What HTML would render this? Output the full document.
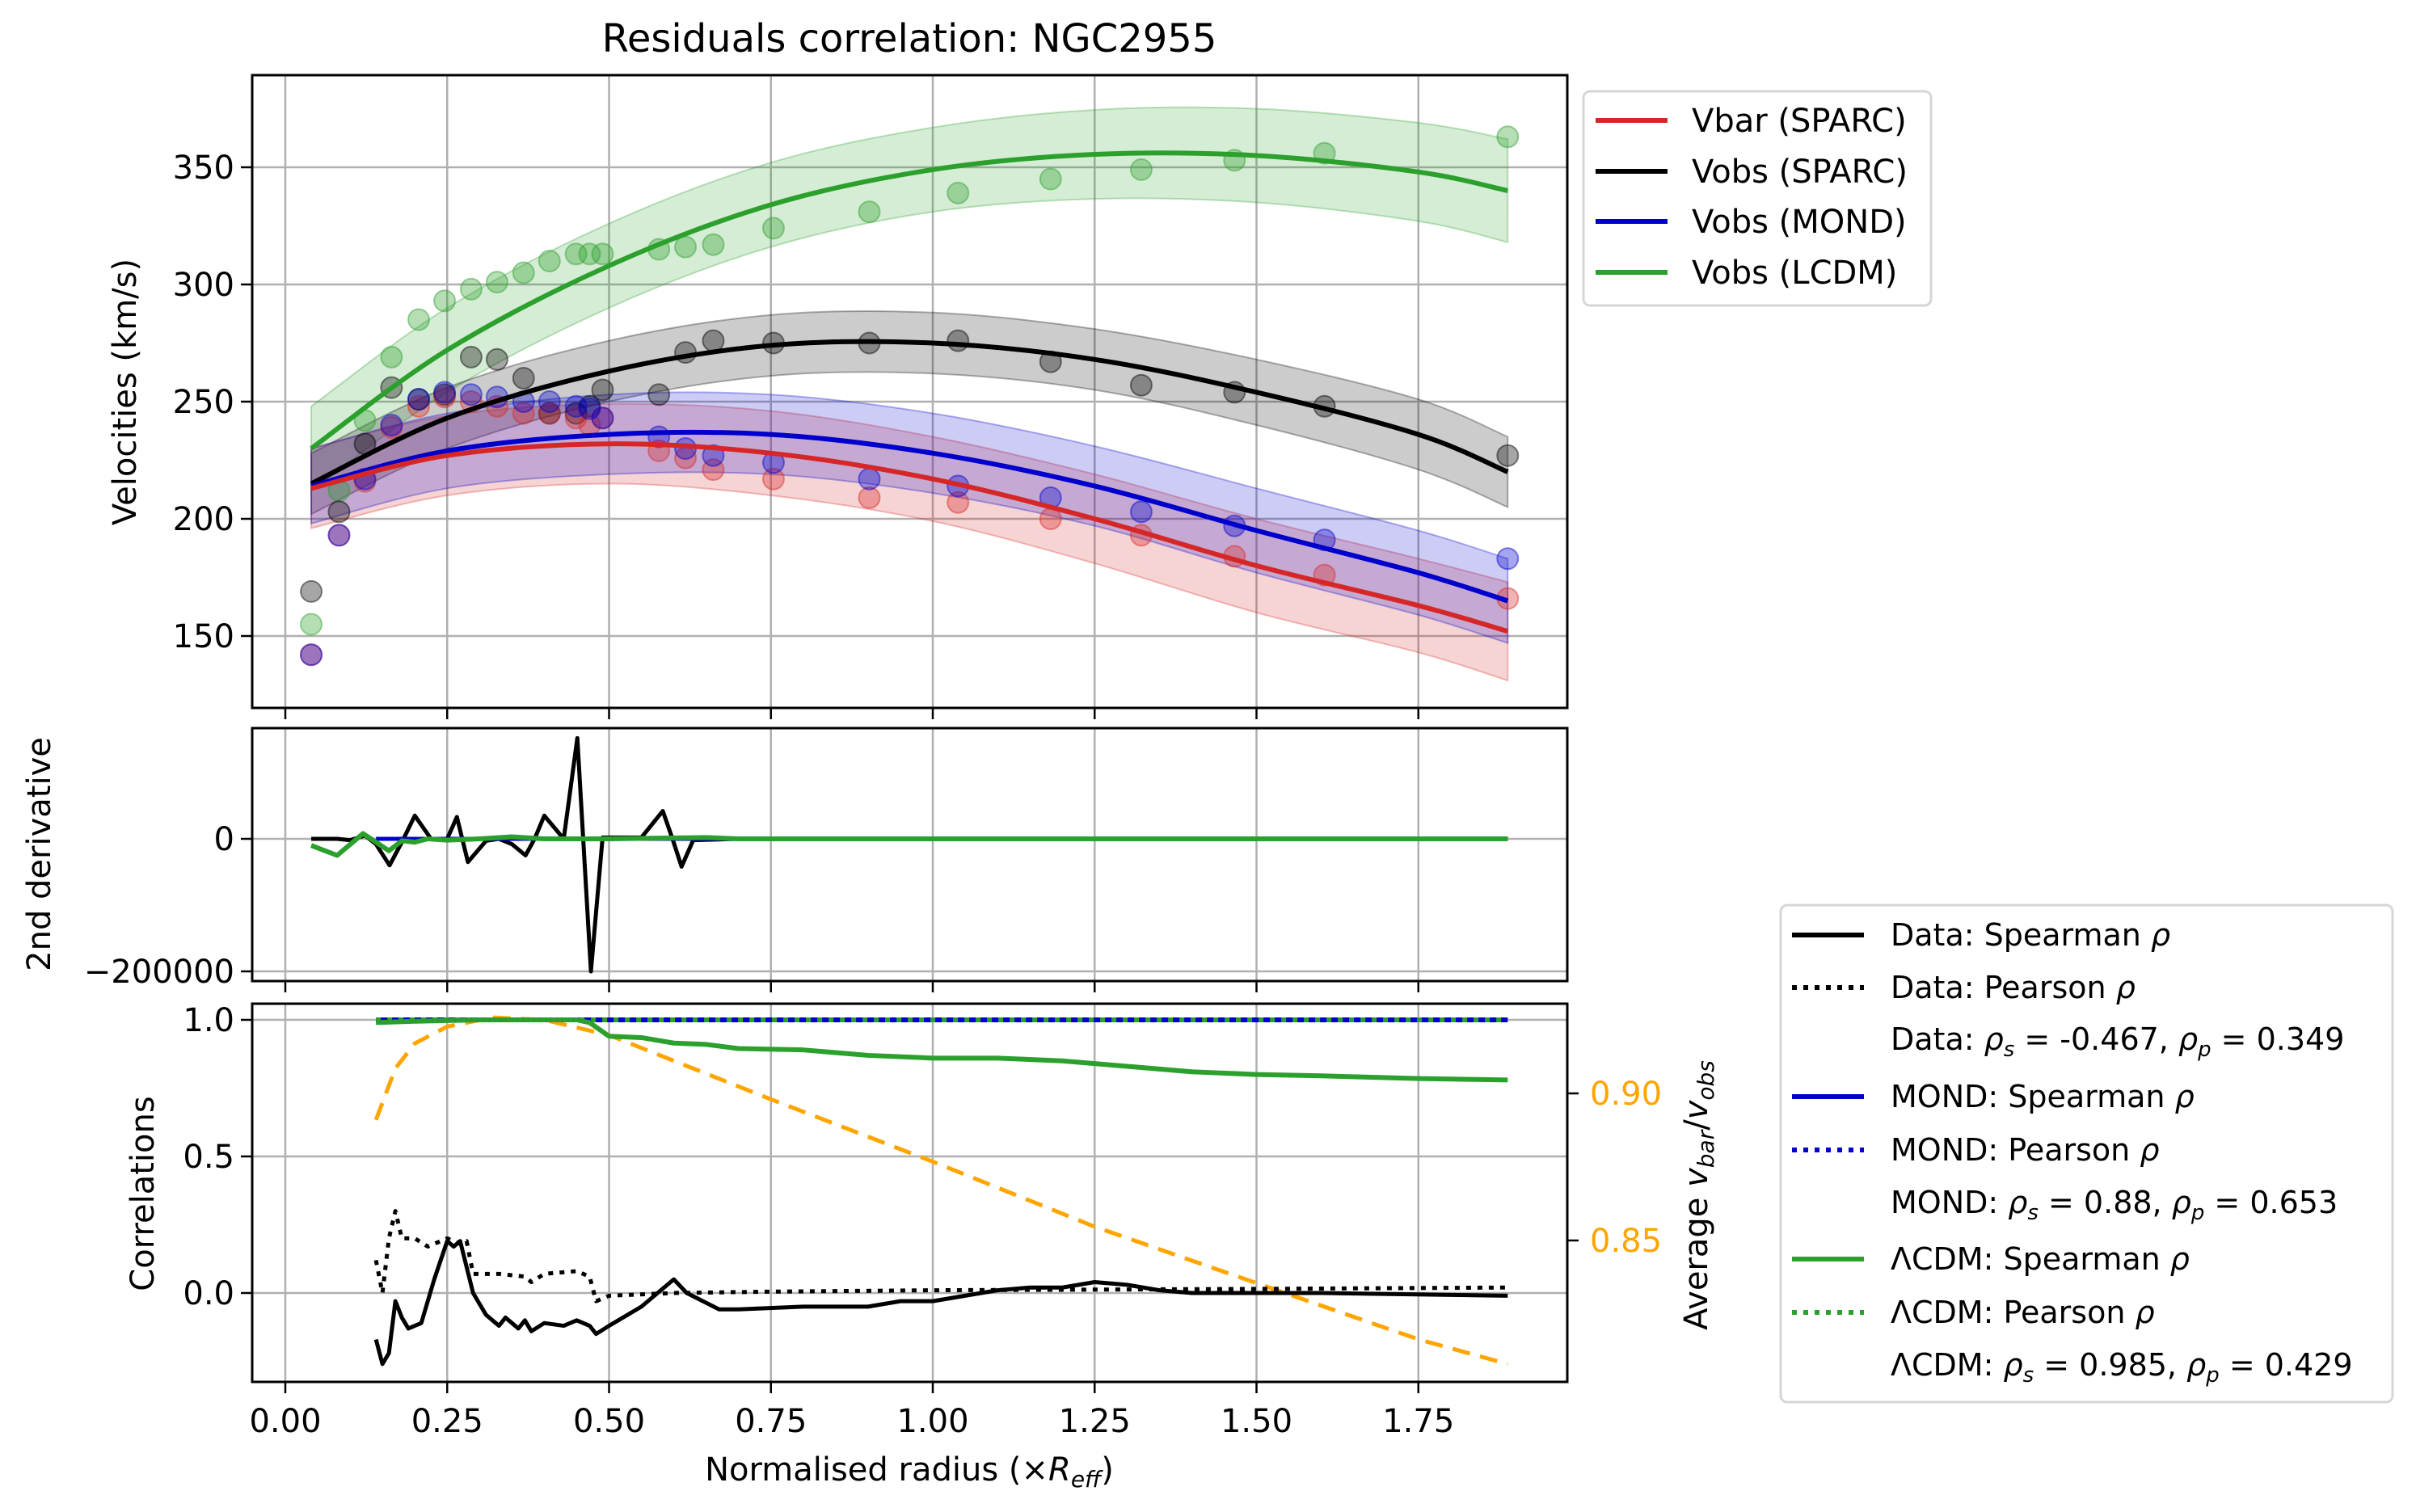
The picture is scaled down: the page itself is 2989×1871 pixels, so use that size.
<!DOCTYPE html>
<html><head><meta charset="utf-8"><style>
html,body{margin:0;padding:0;background:#fff;}
svg{display:block;font-family:"DejaVu Sans","Liberation Sans",sans-serif;}
</style></head><body>
<svg id="fig" width="2989" height="1871" viewBox="0 0 2989 1871" xmlns="http://www.w3.org/2000/svg">
<rect width="2989" height="1871" fill="#fff"/>
<g id="g1"></g>
<g id="g2"></g>
<g id="g3"></g>
<text x="1125" y="64" font-size="48" text-anchor="middle">Residuals correlation: NGC2955</text>
<text transform="translate(168,485) rotate(-90)" font-size="40" text-anchor="middle">Velocities (km/s)</text>
<text transform="translate(62,1057) rotate(-90)" font-size="40" text-anchor="middle">2nd derivative</text>
<text transform="translate(190,1477) rotate(-90)" font-size="40" text-anchor="middle">Correlations</text>
<text transform="translate(2112,1479) rotate(-90)" font-size="40" text-anchor="middle">Average <tspan font-style="italic">v</tspan><tspan font-style="italic" font-size="28" dy="8">bar</tspan><tspan dy="-8">/</tspan><tspan font-style="italic">v</tspan><tspan font-style="italic" font-size="28" dy="8">obs</tspan></text>
<text x="1125" y="1832" font-size="40" text-anchor="middle">Normalised radius (×<tspan font-style="italic">R</tspan><tspan font-style="italic" font-size="28" dy="8">eff</tspan><tspan dy="-8">)</tspan></text>

<g>
<rect x="1959" y="113" width="430" height="265" rx="8" fill="#fff" stroke="#d6d6d6" stroke-width="3"/>
<g><line x1="1974" y1="149" x2="2063" y2="149" stroke="#d62728" stroke-width="6"/><text x="2093" y="163" font-size="40">Vbar (SPARC)</text></g>
<g><line x1="1974" y1="212" x2="2063" y2="212" stroke="#000" stroke-width="6"/><text x="2093" y="226" font-size="40">Vobs (SPARC)</text></g>
<g><line x1="1974" y1="274" x2="2063" y2="274" stroke="#0000cd" stroke-width="6"/><text x="2093" y="288" font-size="40">Vobs (MOND)</text></g>
<g><line x1="1974" y1="337" x2="2063" y2="337" stroke="#2ca02c" stroke-width="6"/><text x="2093" y="351" font-size="40">Vobs (LCDM)</text></g>
</g>

<g font-size="38">
<rect x="2203" y="1120" width="757" height="615" rx="8" fill="#fff" stroke="#d6d6d6" stroke-width="3"/>
<g><line x1="2217" y1="1157" x2="2306" y2="1157" stroke="#000" stroke-width="6"/><text x="2339" y="1170">Data: Spearman <tspan font-style="italic">ρ</tspan></text></g>
<g><line x1="2217" y1="1222" x2="2306" y2="1222" stroke="#000" stroke-width="6" stroke-dasharray="6,8"/><text x="2339" y="1235">Data: Pearson <tspan font-style="italic">ρ</tspan></text></g>
<g><text x="2339" y="1299">Data: <tspan font-style="italic">ρ</tspan><tspan font-style="italic" font-size="26" dy="8">s</tspan><tspan dy="-8"> = -0.467, </tspan><tspan font-style="italic">ρ</tspan><tspan font-style="italic" font-size="26" dy="8">p</tspan><tspan dy="-8"> = 0.349</tspan></text></g>
<g><line x1="2217" y1="1357" x2="2306" y2="1357" stroke="#0000cd" stroke-width="6"/><text x="2339" y="1370">MOND: Spearman <tspan font-style="italic">ρ</tspan></text></g>
<g><line x1="2217" y1="1423" x2="2306" y2="1423" stroke="#0000cd" stroke-width="6" stroke-dasharray="6,8"/><text x="2339" y="1436">MOND: Pearson <tspan font-style="italic">ρ</tspan></text></g>
<g><text x="2339" y="1501">MOND: <tspan font-style="italic">ρ</tspan><tspan font-style="italic" font-size="26" dy="8">s</tspan><tspan dy="-8"> = 0.88, </tspan><tspan font-style="italic">ρ</tspan><tspan font-style="italic" font-size="26" dy="8">p</tspan><tspan dy="-8"> = 0.653</tspan></text></g>
<g><line x1="2217" y1="1558" x2="2306" y2="1558" stroke="#2ca02c" stroke-width="6"/><text x="2339" y="1571">ΛCDM: Spearman <tspan font-style="italic">ρ</tspan></text></g>
<g><line x1="2217" y1="1624" x2="2306" y2="1624" stroke="#2ca02c" stroke-width="6" stroke-dasharray="6,8"/><text x="2339" y="1637">ΛCDM: Pearson <tspan font-style="italic">ρ</tspan></text></g>
<g><text x="2339" y="1702">ΛCDM: <tspan font-style="italic">ρ</tspan><tspan font-style="italic" font-size="26" dy="8">s</tspan><tspan dy="-8"> = 0.985, </tspan><tspan font-style="italic">ρ</tspan><tspan font-style="italic" font-size="26" dy="8">p</tspan><tspan dy="-8"> = 0.429</tspan></text></g>
</g>
</svg>
<script>
// ---------- data ----------
const radii = [0.04,0.083,0.123,0.164,0.206,0.246,0.287,0.327,0.368,0.408,0.449,0.47,0.49,0.577,0.618,0.661,0.754,0.902,1.039,1.182,1.322,1.466,1.605,1.888];
const ptsLCDM  = [155,212,242,269,285,293,298,301,305,310,313,313,313,315,316,317,324,331,339,345,349,353,356,363];
const ptsSPARC = [169,203,232,256,251,253,269,268,260,245,245,248,255,253,271,276,275,275,276,267,257,254,248,227];
const ptsVbar  = [142,193,216,239,248,252,250,248,245,245,243,240,243,229,226,221,217,209,207,200,193,184,176,166];
const ptsMOND  = [142,193,217,240,251,254,253,252,250,250,248,247,243,235,230,227,224,217,214,209,203,197,191,183];
const fitR = [0.04,0.25,0.5,0.75,1.0,1.25,1.5,1.75,1.888];
const fitLCDM  = [230,272,308,334,349,355.5,355,348,340];
const fitSPARC = [215,243,263,274,275,268,254,236,220];
const fitMOND  = [214,229,236,236,228,214,195,177,165];
const fitVbar  = [213,227,232,228,217,200,180,163,152];
const bandLCDM  = [18,18,18,18,18,19,20,21,22];
const bandSPARC = [13,13,13,13,13,13,14,15,15];
const bandMOND  = [16,16,17,17,17,17,18,18,18];
const bandVbar  = [17,17,17,18,18,19,20,20,21];
const velTicks = [150,200,250,300,350];
const xTicks = [0,0.25,0.5,0.75,1.0,1.25,1.5,1.75];
const xTickLabels = ["0.00","0.25","0.50","0.75","1.00","1.25","1.50","1.75"];

const d2R   = [0.04,0.08,0.10,0.123,0.14,0.161,0.18,0.2,0.225,0.25,0.265,0.282,0.31,0.33,0.35,0.371,0.385,0.4,0.43,0.451,0.472,0.49,0.55,0.583,0.598,0.612,0.63,0.7,1.0,1.3,1.888];
const d2Obs = [0,0,-2000,5000,-8000,-40000,-5000,35000,0,0,33000,-35000,-3000,0,-8000,-25000,0,35000,0,152000,-200000,2000,2000,42000,0,-42000,-2000,0,0,0,0];
const d2LR  = [0.04,0.08,0.12,0.16,0.18,0.2,0.22,0.25,0.3,0.35,0.4,0.5,0.65,0.7,1.0,1.888];
const d2LCDM= [-10000,-25000,8000,-18000,-3000,-5000,0,-2000,0,3000,0,0,2000,0,0,0];
const d2Ticks = [-200000,0];
const d2TickLabels = ["\u2212200000","0"];

const cR = [0.14,0.15,0.16,0.17,0.18,0.19,0.2,0.21,0.23,0.25,0.26,0.27,0.29,0.31,0.33,0.34,0.36,0.37,0.38,0.4,0.43,0.45,0.47,0.48,0.5,0.55,0.6,0.62,0.67,0.7,0.8,0.9,0.95,1.0,1.1,1.15,1.2,1.25,1.3,1.35,1.4,1.6,1.888];
const spearData = [-0.17,-0.26,-0.22,-0.03,-0.09,-0.13,-0.12,-0.11,0.05,0.19,0.17,0.19,0.0,-0.08,-0.12,-0.09,-0.13,-0.1,-0.14,-0.11,-0.12,-0.1,-0.12,-0.15,-0.12,-0.05,0.05,0.0,-0.06,-0.06,-0.05,-0.05,-0.03,-0.03,0.01,0.02,0.02,0.04,0.03,0.01,0.0,0.0,-0.01];
const pR = [0.14,0.15,0.16,0.17,0.18,0.2,0.22,0.25,0.27,0.28,0.29,0.33,0.37,0.38,0.4,0.45,0.47,0.48,0.5,0.6,0.75,1.0,1.5,1.888];
const pearData = [0.12,0.0,0.2,0.3,0.2,0.2,0.17,0.2,0.18,0.19,0.07,0.07,0.06,0.04,0.07,0.08,0.06,-0.03,-0.01,0.0,0.005,0.01,0.015,0.02];
const gR = [0.14,0.2,0.3,0.45,0.47,0.5,0.55,0.6,0.65,0.7,0.8,0.9,1.0,1.1,1.2,1.3,1.4,1.5,1.6,1.75,1.888];
const spearLCDM = [0.99,0.995,1.0,1.0,0.99,0.94,0.935,0.915,0.91,0.895,0.89,0.87,0.86,0.86,0.85,0.83,0.81,0.80,0.795,0.785,0.78];
const flatR = [0.14,1.888];
const spearMOND = [1.0,1.0];
const pearMOND = [1.0,1.0];
const pearLCDM = [1.0,1.0];
const oR = [0.14,0.17,0.2,0.25,0.32,0.4,0.5,0.75,1.0,1.25,1.5,1.75,1.888];
const ratioVals = [0.891,0.9085,0.917,0.9227,0.9258,0.925,0.9198,0.898,0.8768,0.8547,0.8355,0.8164,0.808];
const corrTicks = [0.0,0.5,1.0];
const corrTickLabels = ["0.0","0.5","1.0"];
const ratioTicks = [0.85,0.90];
const ratioTickLabels = ["0.85","0.90"];

// ---------- geometry ----------
const NS="http://www.w3.org/2000/svg";
const L=312,R=1939;
const X = r => 353 + r*801;
const Y1 = v => 207 + (350-v)*2.9;
const Y2 = v => 1038 - v*164/200000;
const Y3 = v => 1600 - v*338;
const Y3r = v => 1353 + (0.90-v)*3640;
function el(parent,tag,attrs){const e=document.createElementNS(NS,tag);for(const k in attrs)e.setAttribute(k,attrs[k]);parent.appendChild(e);return e;}
function smooth(pts){ // catmull-rom path
  let d="M"+pts[0][0]+","+pts[0][1];
  for(let i=0;i<pts.length-1;i++){const p0=pts[Math.max(0,i-1)],p1=pts[i],p2=pts[i+1],p3=pts[Math.min(pts.length-1,i+2)];
    d+=" C"+(p1[0]+(p2[0]-p0[0])/6)+","+(p1[1]+(p2[1]-p0[1])/6)+" "+(p2[0]-(p3[0]-p1[0])/6)+","+(p2[1]-(p3[1]-p1[1])/6)+" "+p2[0]+","+p2[1];}
  return d;}
function poly(xs,ys,fx,fy){return xs.map((x,i)=>[fx(x),fy(ys[i])]);}
function frame(g,top,bot){
  xTicks.forEach(t=>{const l=el(g,"line",{x1:X(t),x2:X(t),y1:top,y2:bot,stroke:"#b0b0b0","stroke-width":2.5});
    
    
    el(g,"line",{x1:X(t),x2:X(t),y1:bot,y2:bot+14,stroke:"#000","stroke-width":2.5});});
}
function yaxis(g,ticks,labels,fy,top,bot){
  ticks.forEach((t,i)=>{const y=fy(t);
    const l=el(g,"line",{x1:L,x2:R,y1:y,y2:y,stroke:"#b0b0b0","stroke-width":2.5});
    
    
    el(g,"line",{x1:L-14,x2:L,y1:y,y2:y,stroke:"#000","stroke-width":2.5});
    const tx=el(g,"text",{x:L-22,y:y+14,"font-size":40,"text-anchor":"end"});tx.textContent=labels[i];
    
    });
}
function border(g,top,bot){el(g,"rect",{x:L,y:top,width:R-L,height:bot-top,fill:"none",stroke:"#000","stroke-width":3});}

// ---------- panel 1 ----------
const g1=document.getElementById("g1");
const c1=el(g1,"clipPath",{id:"c1"});el(c1,"rect",{x:L,y:93,width:R-L,height:783});
frame(g1,93,876);
yaxis(g1,velTicks,velTicks.map(String),Y1,93,876);
const series=[["lcdm","#2ca02c",fitLCDM,bandLCDM,ptsLCDM],["sparc","#000000",fitSPARC,bandSPARC,ptsSPARC],["vbar","#d62728",fitVbar,bandVbar,ptsVbar],["mond","#0000cd",fitMOND,bandMOND,ptsMOND]];
const dg=el(g1,"g",{"clip-path":"url(#c1)"});
series.forEach(s=>{
  const up=poly(fitR,s[2].map((v,i)=>v+s[3][i]),X,Y1), lo=poly(fitR,s[2].map((v,i)=>v-s[3][i]),X,Y1).reverse();
  const d=smooth(up)+" L"+lo[0][0]+","+lo[0][1]+smooth(lo).slice(smooth(lo).indexOf(" C"))+" Z";
  const b=el(dg,"path",{d:d,fill:s[1],"fill-opacity":0.2,stroke:s[1],"stroke-opacity":0.3,"stroke-width":2});
  
  
});
series.forEach(s=>{
  s[4].forEach((v,i)=>{const c=el(dg,"circle",{cx:X(radii[i]),cy:Y1(v),r:13,fill:s[1],"fill-opacity":0.35,stroke:s[1],"stroke-opacity":0.45,"stroke-width":2});
    
    });
});
[series[0],series[1],series[3],series[2]].forEach(s=>{
  const p=el(dg,"path",{d:smooth(poly(fitR,s[2],X,Y1)),fill:"none",stroke:s[1],"stroke-width":6});
  
  
});
border(g1,93,876);

// ---------- panel 2 ----------
const g2=document.getElementById("g2");
const c2=el(g2,"clipPath",{id:"c2"});el(c2,"rect",{x:L,y:901,width:R-L,height:313});
frame(g2,901,1214);
yaxis(g2,d2Ticks,d2TickLabels,Y2,901,1214);
const dg2=el(g2,"g",{"clip-path":"url(#c2)"});
let p2=el(dg2,"polyline",{points:poly(d2R,d2Obs,X,Y2).join(" "),fill:"none",stroke:"#000","stroke-width":5,"stroke-linejoin":"round"});


p2=el(dg2,"polyline",{points:poly(flatR,[0,0],X,Y2).join(" "),fill:"none",stroke:"#0000cd","stroke-width":5});


p2=el(dg2,"polyline",{points:poly(d2LR,d2LCDM,X,Y2).join(" "),fill:"none",stroke:"#2ca02c","stroke-width":6,"stroke-linejoin":"round"});


border(g2,901,1214);

// ---------- panel 3 ----------
const g3=document.getElementById("g3");
const c3=el(g3,"clipPath",{id:"c3"});el(c3,"rect",{x:L,y:1242,width:R-L,height:468});
frame(g3,1242,1710);
yaxis(g3,corrTicks,corrTickLabels,Y3,1242,1710);
xTicks.forEach((t,i)=>{const tx=el(g3,"text",{x:X(t),y:1772,"font-size":40,"text-anchor":"middle"});tx.textContent=xTickLabels[i];
  
  });
ratioTicks.forEach((t,i)=>{const y=Y3r(t);el(g3,"line",{x1:R,x2:R+14,y1:y,y2:y,stroke:"#000","stroke-width":2.5});
  const tx=el(g3,"text",{x:R+28,y:y+14,"font-size":40,fill:"#ffa500"});tx.textContent=ratioTickLabels[i];
  
  });
const dg3=el(g3,"g",{"clip-path":"url(#c3)"});
const lines3=[
 ["ratio-line","#ffa500",oR,ratioVals,Y3r,"22,13",5],
 ["spearman-mond","#0000cd",flatR,spearMOND,Y3,null,6],
 ["spearman-lcdm","#2ca02c",gR,spearLCDM,Y3,null,6],
 ["pearson-mond","#0000cd",flatR,pearMOND,Y3,"6,8",6],
 ["pearson-lcdm","#2ca02c",flatR,pearLCDM,Y3,"6,8",6],
 ["spearman-data","#000",cR,spearData,Y3,null,5],
 ["pearson-data","#000",pR,pearData,Y3,"6,8",5]];
lines3.forEach(s=>{
  const a={points:poly(s[2],s[3],X,s[4]).join(" "),fill:"none",stroke:s[1],"stroke-width":s[6],"stroke-linejoin":"round"};
  if(s[5])a["stroke-dasharray"]=s[5];
  const p=el(dg3,"polyline",a);
  
  
});
border(g3,1242,1710);
</script>
</body></html>
